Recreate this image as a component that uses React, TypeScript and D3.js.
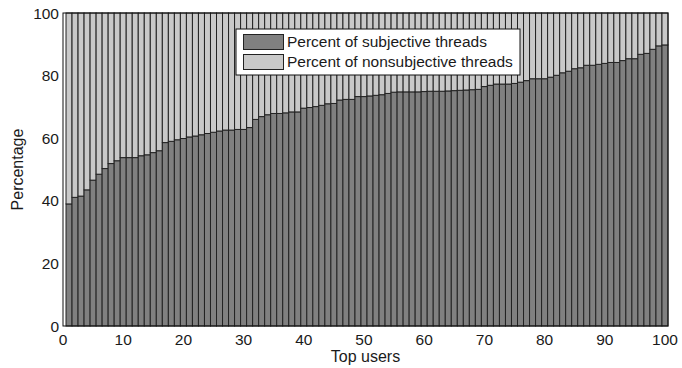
import { useEffect, useRef } from "react"
import * as d3 from "d3"

// share of subjective threads per user (ranked), remainder is nonsubjective
const users = d3.range(1, 101)
const subjective = [
  39.0, 41.1, 41.5, 43.5, 46.6, 48.5, 50.3, 51.9, 52.8, 53.8,
  53.8, 53.8, 54.4, 54.7, 55.4, 56.0, 58.6, 59.0, 59.5, 59.9,
  60.4, 60.7, 61.1, 61.5, 61.9, 62.3, 62.6, 62.6, 62.8, 62.8,
  63.4, 66.0, 66.9, 67.5, 67.9, 67.9, 68.1, 68.4, 68.4, 69.6,
  69.8, 70.1, 70.5, 71.0, 71.1, 72.2, 72.4, 72.4, 73.3, 73.3,
  73.5, 73.7, 73.9, 74.3, 74.7, 74.8, 74.8, 74.8, 74.8, 74.9,
  75.0, 75.0, 75.0, 75.1, 75.2, 75.3, 75.4, 75.5, 75.6, 76.5,
  76.9, 77.3, 77.3, 77.3, 77.5, 77.9, 78.4, 79.0, 79.0, 79.0,
  79.5, 80.1, 80.9, 81.4, 82.2, 82.5, 83.3, 83.3, 83.6, 83.9,
  84.2, 84.2, 84.8, 85.4, 85.4, 86.8, 87.1, 88.4, 89.5, 89.8
]
const xTicks = d3.range(0, 101, 10)
const yTicks = d3.range(0, 101, 20)
const legendLabels = ["Percent of subjective threads", "Percent of nonsubjective threads"]

const DARK = "#808080"
const LIGHT = "#c9c9c9"
const EDGE = "#222"

export default function App() {
  const ref = useRef<SVGSVGElement>(null)

  useEffect(() => {
    if (!ref.current) return
    const svg = d3.select(ref.current)
    svg.selectAll("*").remove()

    const left = 63, right = 668, top = 13, bottom = 326
    const x = d3.scaleLinear().domain([0, 100.5]).range([left, right])
    const y = d3.scaleLinear().domain([0, 100]).range([bottom, top])
    const font = "Arial, 'Liberation Sans', sans-serif"

    svg.append("rect").attr("width", 682).attr("height", 368).attr("fill", "#fff")

    const bars = svg.append("g")
    users.forEach((u, i) => {
      const x0 = Math.max(x(0), x(u - 0.5))
      const x1 = x(u + 0.5)
      const v = subjective[i]
      bars.append("rect")
        .attr("x", x0).attr("width", x1 - x0)
        .attr("y", y(v)).attr("height", y(0) - y(v))
        .attr("fill", DARK).attr("stroke", EDGE).attr("stroke-width", 1)
      bars.append("rect")
        .attr("x", x0).attr("width", x1 - x0)
        .attr("y", y(100)).attr("height", y(v) - y(100))
        .attr("fill", LIGHT).attr("stroke", EDGE).attr("stroke-width", 1)
    })

    // axes box
    svg.append("rect")
      .attr("x", left).attr("y", top)
      .attr("width", right - left).attr("height", bottom - top)
      .attr("fill", "none").attr("stroke", "#111").attr("stroke-width", 1)

    svg.append("g").selectAll("text")
      .data(xTicks).enter().append("text")
      .attr("x", d => x(d)).attr("y", bottom + 19)
      .attr("text-anchor", "middle")
      .style("font-family", font).style("font-size", "15.5px").attr("fill", "#1a1a1a")
      .text(d => d)

    svg.append("g").selectAll("text")
      .data(yTicks).enter().append("text")
      .attr("x", left - 4).attr("y", d => y(d) + 5.5)
      .attr("text-anchor", "end")
      .style("font-family", font).style("font-size", "15.5px").attr("fill", "#1a1a1a")
      .text(d => d)

    svg.append("text")
      .attr("x", (left + right) / 2).attr("y", 362)
      .attr("text-anchor", "middle")
      .style("font-family", font).style("font-size", "16px").attr("fill", "#1a1a1a")
      .text("Top users")

    svg.append("text")
      .attr("transform", `translate(23,${(top + bottom) / 2}) rotate(-90)`)
      .attr("text-anchor", "middle")
      .style("font-family", font).style("font-size", "16px").attr("fill", "#1a1a1a")
      .text("Percentage")

    // legend
    const lg = svg.append("g")
    lg.append("rect")
      .attr("x", 236).attr("y", 29).attr("width", 284).attr("height", 46)
      .attr("fill", "#fff").attr("stroke", "#111").attr("stroke-width", 1)
    const colors = [DARK, LIGHT]
    legendLabels.forEach((label, i) => {
      lg.append("rect")
        .attr("x", 243.5).attr("y", 34.5 + i * 20)
        .attr("width", 40).attr("height", 15)
        .attr("fill", colors[i]).attr("stroke", EDGE).attr("stroke-width", 1)
      lg.append("text")
        .attr("x", 287).attr("y", 47 + i * 20)
        .style("font-family", font).style("font-size", "15.5px").attr("fill", "#1a1a1a")
        .text(label)
    })
  }, [])

  return (
    <svg ref={ref} width={682} height={368}
      style={{ position: "absolute", left: 0, top: 0 }} />
  )
}
